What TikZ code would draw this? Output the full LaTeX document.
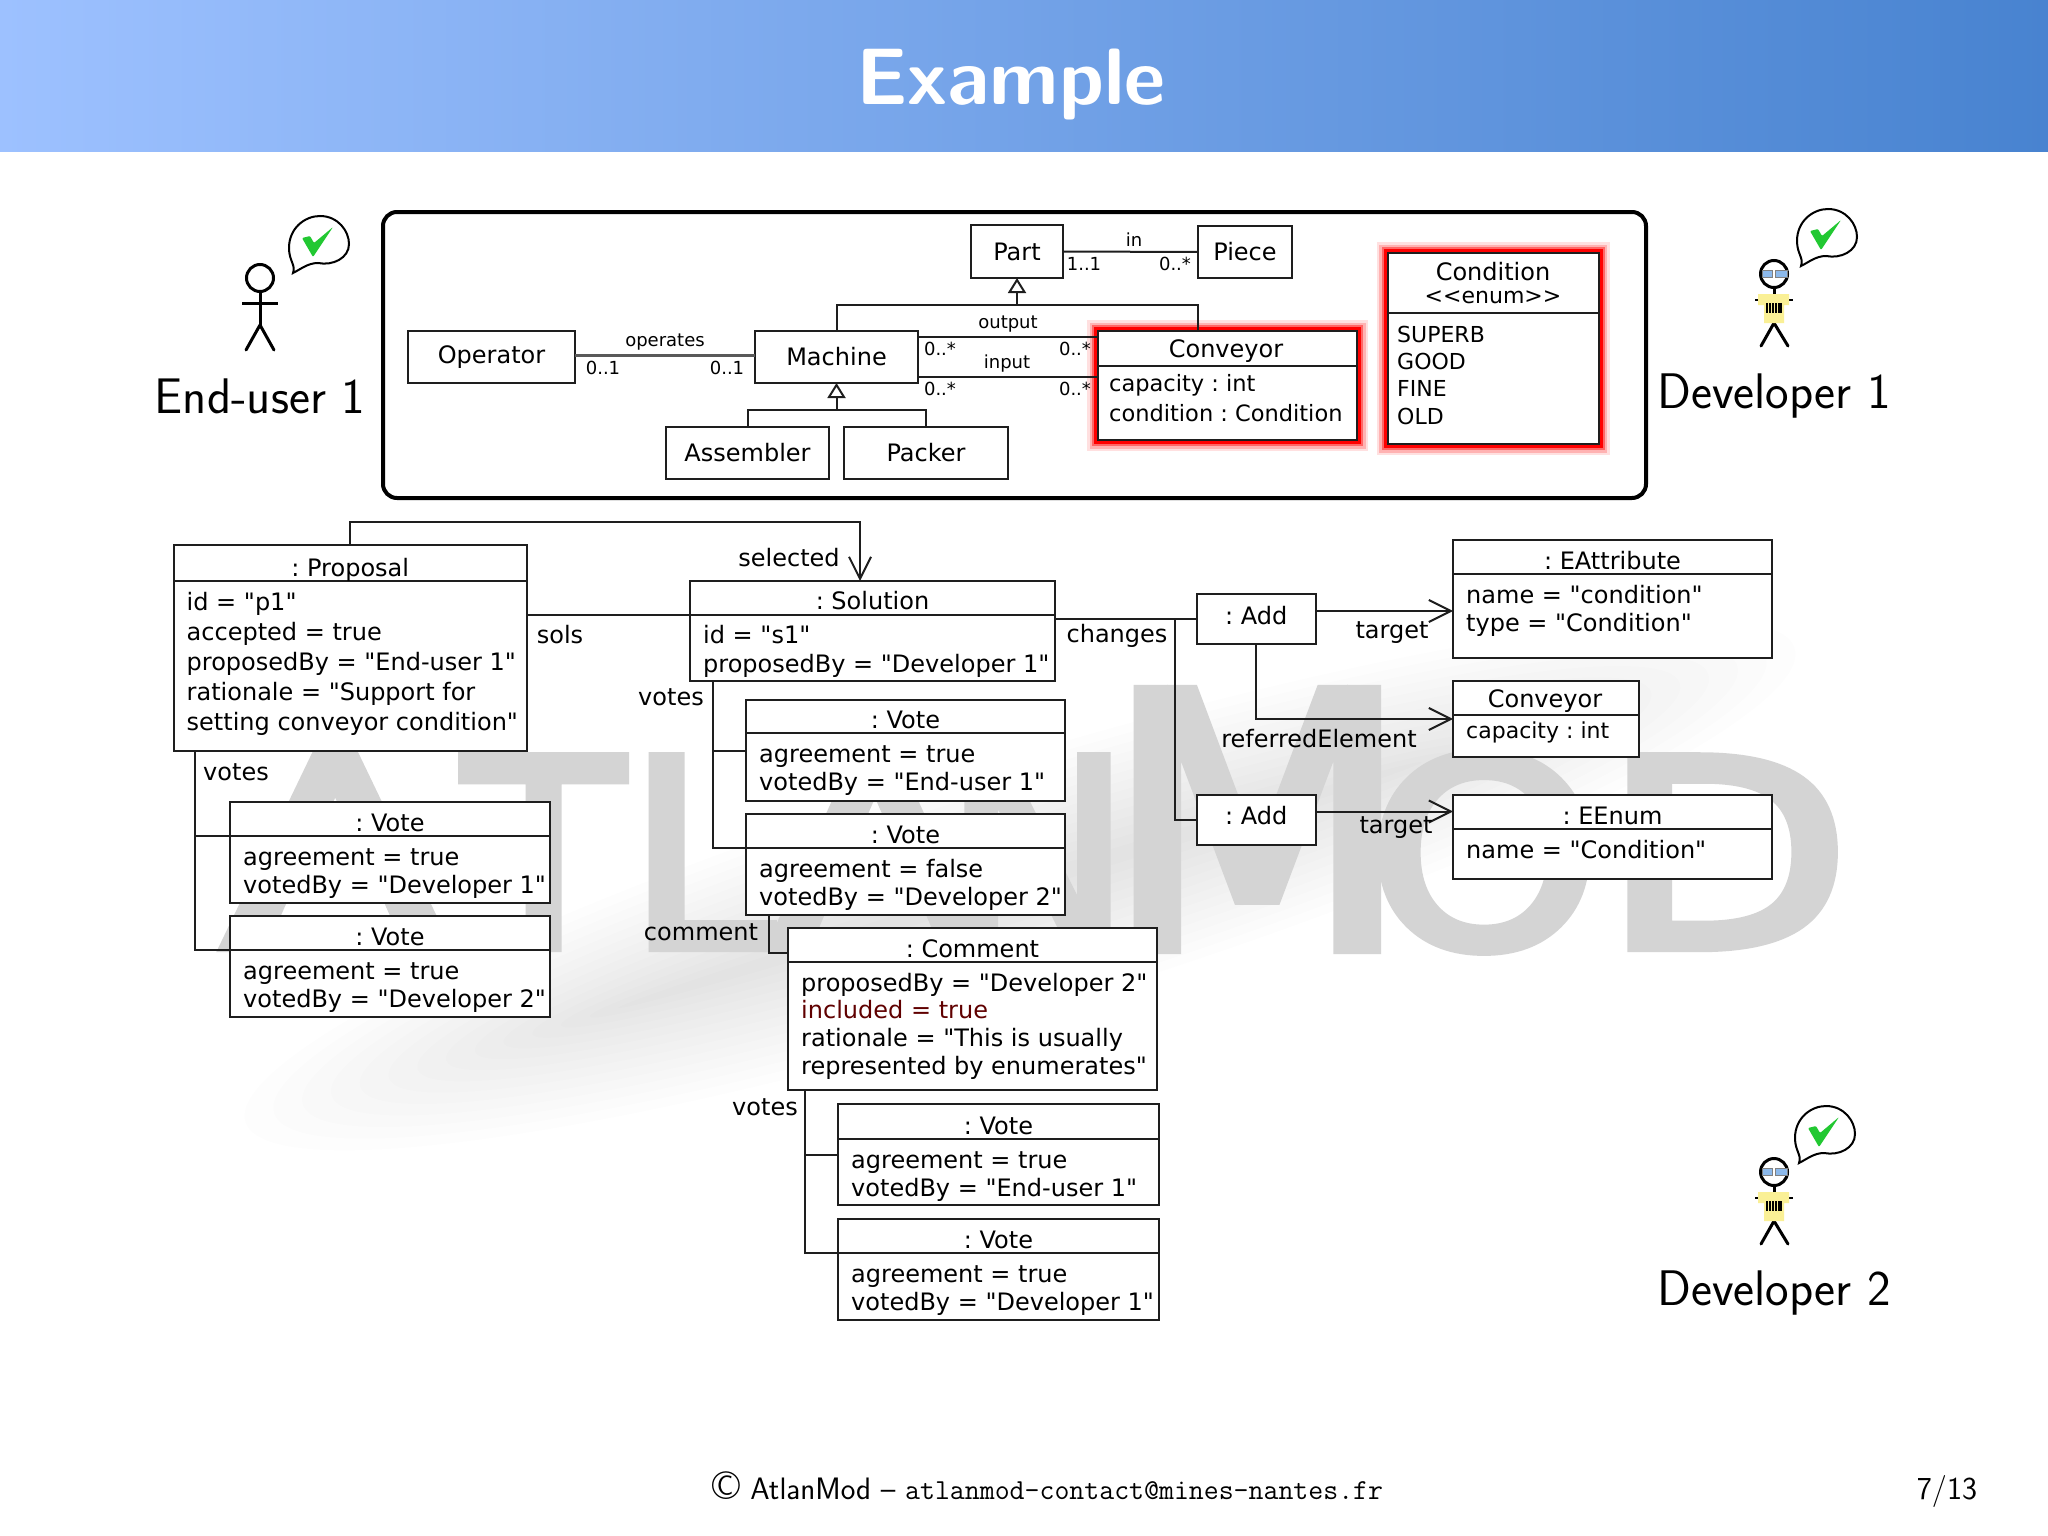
\documentclass[tikz,border=0pt]{standalone}
\usepackage{fontspec}
\newfontfamily\dejavu{DejaVu Sans}
\newfontfamily\wmfont[FakeBold=4]{DejaVu Sans}
\usetikzlibrary{arrows.meta}
\definecolor{headleft}{RGB}{157,193,255}
\definecolor{headright}{RGB}{72,131,208}
\definecolor{umlline}{RGB}{30,30,30}
\definecolor{tickgreen}{RGB}{34,200,50}
\definecolor{shirt}{RGB}{250,240,150}
\definecolor{lens}{RGB}{140,185,235}
\definecolor{incl}{RGB}{96,0,0}

% object box: name, x0, y0, x1, y1, y of the divider, title, attributes
\newcommand{\objbox}[8]{%
  \node[umlbox,minimum width={#4-#2},minimum height={#5-#3}] (#1) at ({(#2+#4)/2},{(#3+#5)/2}) {};
  \coordinate (#1d) at (#2,#6);
  \draw[uml] (#1d) -- (#1d -| #1.east);
  \node[objtitle] (#1t) at ({(#2+#4)/2},{#6-5}) {#7};
  \node[attrs] (#1b) at ({#2+13},{#6+9}) {\strut #8};
}

\begin{document}
\frenchspacing
\begin{tikzpicture}[x=1pt,y=-1pt,>={Straight Barb[length=22pt,width=22pt]},
 uml/.style={draw=umlline,line width=2pt},
 umlbox/.style={uml,fill=white,rectangle,inner sep=0pt,outer sep=0pt},
 cname/.style={font={\dejavu\fontsize{24}{28.5}\selectfont},text=black,inner sep=0pt},
 objtitle/.style={cname,anchor=base},
 attrs/.style={cname,anchor=north west,align=left},
 small/.style={font={\dejavu\fontsize{18}{20}\selectfont},text=black,inner sep=0pt},
 enumlit/.style={font={\dejavu\fontsize{22}{27.3}\selectfont},text=black,inner sep=0pt,anchor=north west,align=left},
 actorname/.style={font={\sffamily\fontsize{50}{54}\selectfont},text=black,inner sep=0pt},
 wmark/.style={font={\wmfont\fontsize{#1}{#1}\selectfont},text=black!17,inner sep=0pt,anchor=base west},
 gentip/.style={-{Triangle[length=15pt,width=18pt,fill=white]}},
 redglow/.style={preaction={draw=red!12,line width=22pt},preaction={draw=red!30,line width=17pt},preaction={draw=red!60,line width=12pt},preaction={draw=red,line width=8pt}},
 bubble/.pic={
  \draw[black,line width=2pt,fill=white] (0,0) .. controls (3,-8) and (-4,-12) .. (-4,-25) .. controls (-4,-45) and (12,-57) .. (27,-57) .. controls (45,-57) and (56,-42) .. (56,-29) .. controls (56,-15) and (40,-7) .. (25,-10) .. controls (15,-10) and (8,-4) .. (0,0) -- cycle;
  \fill[tickgreen,rounded corners=1pt] (9,-35) -- (17,-37) -- (21,-30) -- (40,-46) -- (20,-16) -- cycle;
 },
 developer/.pic={
  \draw[black,line width=3pt] (0,14) -- (0,20);
  \draw[black,line width=3pt,line cap=round] (0,49) -- (-13,72) (0,49) -- (14,72);
  \draw[black,line width=2pt] (-19,26) -- (19,26);
  \fill[shirt] (-16,20) -- (15,20) -- (15,31) -- (10,31) -- (10,49) -- (-10,49) -- (-10,31) -- (-16,31) -- cycle;
  \foreach \s in {-7,-4,-1,2,5,7}
   \draw[black,line width=1.2pt] (\s,29) -- (\s,39);
  \draw[black,line width=3pt] (0,0) circle (13.5);
  \draw[gray,fill=lens,line width=.8pt] (-12,-4) rectangle (-1.5,3) (1.5,-4) rectangle (13,3);
 }]
\useasboundingbox (0,0) rectangle (2048,1536);
\fill[white] (0,0) rectangle (2048,1536);

% header and footer
\node[rectangle,inner sep=0pt,minimum width=2048,minimum height=152,left color=headleft,right color=headright] (header) at (1024,76) {};
\node[anchor=base,inner sep=0pt,text=white,font={\sffamily\bfseries\fontsize{80}{84}\selectfont}] (title) at (1011,105) {Example};
\node[inner sep=0pt,anchor=base,font={\sffamily\fontsize{31}{34}\selectfont}] (footer) at (1048,1499) {{\fontsize{40}{34}\selectfont\textcopyright}{} AtlanMod – {\ttfamily\fontsize{29}{34}\selectfont atlanmod-contact@mines-nantes.fr}};
\node[inner sep=0pt,anchor=base,font={\sffamily\fontsize{32}{34}\selectfont}] (pagenum) at (1947,1499) {7/13};

% watermark
\foreach \r in {0,...,13}
 \fill[black,opacity=.0075] (1020,885) [rotate around={17:(1020,885)}] ellipse [x radius=810-30*\r,y radius=125-9*\r];
\foreach \i/\ch/\cx/\cs in {1/A/223/1.26,2/T/464/1,3/L/628/1,4/A/770/1.18,5/N/945/.95,6/O/1367/1.14,7/D/1602/1.24}
 \node[wmark=260] (wm\i) at (\cx,947) {\scalebox{\cs}[1]{\ch}};
\node[wmark=350] (wmm) at (1106,947) {M};

% metamodel
\node[rectangle,draw=black,line width=4pt,rounded corners=14pt,fill=white,minimum width=1263,minimum height=286,inner sep=0pt] (meta) at (1014.5,355) {};
\node[umlbox,cname,minimum width=92,minimum height=53] (part) at (1017,251.5) {Part};
\node[umlbox,cname,minimum width=94,minimum height=52] (piece) at (1245,252) {Piece};
\node[umlbox,cname,minimum width=167,minimum height=52] (operator) at (491.5,357) {Operator};
\node[umlbox,cname,minimum width=163,minimum height=52] (machine) at (836.5,357) {Machine};
\node[umlbox,cname,minimum width=163,minimum height=52] (assembler) at (747.5,453) {Assembler};
\node[umlbox,cname,minimum width=164,minimum height=52] (packer) at (926,453) {Packer};
\node[umlbox,redglow,minimum width=259,minimum height=109] (conveyor) at (1227.5,385.5) {};
\draw[uml] (conveyor.west |- 0,366) coordinate (conveyord) -- (conveyor.east |- 0,366);
\node[objtitle] (conveyort) at (1226,357) {Conveyor};
\node[attrs,font={\dejavu\fontsize{22.5}{29.5}\selectfont}] (conveyorb) at (1109,371) {\strut capacity : int\\condition : Condition};
\node[umlbox,redglow,minimum width=211,minimum height=191] (condition) at (1493,348.5) {};
\draw[uml] (condition.west |- 0,313) coordinate (conditiond) -- (condition.east |- 0,313);
\node[objtitle] (conditiont) at (1493,280) {Condition};
\node[objtitle,font={\dejavu\fontsize{22}{24}\selectfont}] (conditions) at (1493,303) {<{}<enum>{}>};
\node[enumlit] (conditionb) at (1397,323) {\strut SUPERB\\GOOD\\FINE\\OLD};

\coordinate (genm) at (836.5,410);
\coordinate (genp) at (1017,305);
\draw[uml,gentip] (genm) -- (machine.south);
\draw[uml] (assembler.north) |- (genm) -| (packer.north);
\draw[uml,gentip] (genp) -- (part.south);
\draw[uml] (machine.north) |- (genp) -| ([xshift=-29.5pt]conveyor.north);
\draw[uml] (part.east) -- (piece.west);
\draw[uml,line width=3pt,draw=black!65] ([yshift=2pt]operator.east) -- ([yshift=2pt]machine.west);
\draw[uml] ([yshift=20pt]machine.east) -- ([yshift=20pt]machine.east -| conveyor.west);
\draw[uml] ([yshift=-20pt]machine.east) -- ([yshift=-20pt]machine.east -| conveyor.west);
\node[small] (in) at (1134,240) {in};
\node[small] (inl) at (1084,264) {1..1};
\node[small] (inr) at (1175,264) {0..*};
\node[small] (op) at (665,342) {operates};
\node[small] (opl) at (603,368) {0..1};
\node[small] (opr) at (727,368) {0..1};
\node[small] (out) at (1008,324) {output};
\node[small] (outl) at (940,349) {0..*};
\node[small] (outr) at (1075,349) {0..*};
\node[small] (inp) at (1007,364) {input};
\node[small] (inpl) at (940,389) {0..*};
\node[small] (inpr) at (1075,389) {0..*};

% proposal model
\objbox{proposal}{173.5}{545}{527}{751}{581}{: Proposal}{id = "p1"\\[1.5pt]accepted = true\\[1.5pt]proposedBy = "End-user 1"\\[1.5pt]rationale = "Support for\\[1.5pt]setting conveyor condition"}
\objbox{solution}{690}{581}{1055}{681}{614.5}{: Solution\hspace{52pt}}{id = "s1"\\proposedBy = "Developer 1"}
\objbox{votepa}{230}{802}{550}{903}{836}{: Vote}{agreement = true\\votedBy = "Developer 1"}
\objbox{votepb}{230}{916}{550}{1017}{950}{: Vote}{agreement = true\\votedBy = "Developer 2"}
\objbox{votesa}{746}{700}{1065}{801}{733}{: Vote}{agreement = true\\votedBy = "End-user 1"}
\objbox{votesb}{746}{814}{1065}{915}{848}{: Vote}{agreement = false\\votedBy = "Developer 2"}
\objbox{comment}{788}{928}{1157}{1090}{962}{: Comment}{proposedBy = "Developer 2"\\[-.8pt]\textcolor{incl}{included = true}\\[-.8pt]rationale = "This is usually\\[-.8pt]represented by enumerates"}
\objbox{voteca}{838}{1104}{1159}{1205}{1139}{: Vote\hspace{50pt}}{agreement = true\\votedBy = "End-user 1"}
\objbox{votecb}{838}{1219}{1159}{1320}{1253}{: Vote}{agreement = true\\votedBy = "Developer 1"}
\node[umlbox,cname,text depth=8pt,minimum width=118.5,minimum height=50] (adda) at (1256.25,619) {: Add};
\node[umlbox,cname,text depth=8pt,minimum width=118.5,minimum height=50] (addb) at (1256.25,819.5) {: Add};
\objbox{eattr}{1453}{540}{1772}{658}{574}{: EAttribute}{name = "condition"\\type = "Condition"}
\objbox{eenum}{1453}{795}{1772}{879}{829}{: EEnum}{name = "Condition"}
\node[umlbox,minimum width=185.5,minimum height=76] (convobj) at (1545.75,719) {};
\draw[uml] (convobj.west |- 0,715) coordinate (convobjd) -- (convobj.east |- 0,715);
\node[objtitle] (convobjt) at (1545,707) {Conveyor};
\node[attrs,font={\dejavu\fontsize{22}{26}\selectfont}] (convobjb) at (1466,720) {\strut capacity : int};

\draw[uml,->] (proposal.north) |- ([xshift=-12.5pt,yshift=59pt]solution.north) -- ([xshift=-12.5pt]solution.north);
\draw[uml] (proposal.east |- solutiond) -- (solutiond);
\draw[uml] ([xshift=-155pt]proposal.south) |- (votepad);
\draw[uml] ([xshift=-155pt]proposal.south) |- (votepbd);
\draw[uml] ([xshift=-159.5pt]solution.south) |- (votesa.west);
\draw[uml] ([xshift=-159.5pt]solution.south) |- (votesbd);
\draw[uml] ([xshift=-136.5pt]votesb.south) |- ([yshift=56pt]comment.west);
\draw[uml] ([xshift=-167.5pt]comment.south) |- (voteca.west);
\draw[uml] ([xshift=-167.5pt]comment.south) |- (votecbd);
\draw[uml] (solution.east |- adda.west) -- (adda.west);
\draw[uml] ([xshift=120pt]solution.east |- adda.west) |- (addb.west);
\draw[uml,->] ([yshift=8pt]adda.east) -- ([yshift=8pt]adda.east -| eattr.west);
\draw[uml,->] (adda.south) |- (convobj.west);
\draw[uml,->] ([yshift=8pt]addb.east) -- ([yshift=8pt]addb.east -| eenum.west);

\node[cname] (selected) at (789,558) {selected};
\node[cname] (sols) at (560,635) {sols};
\node[cname] (votesp) at (236,772) {votes};
\node[cname] (votess) at (671,697) {votes};
\node[cname] (changes) at (1117,636) {changes};
\node[cname] (targeta) at (1392,633) {target};
\node[cname] (referred) at (1319,739) {referredElement};
\node[cname] (targetb) at (1396,828) {target};
\node[cname] (commentl) at (701,932) {comment};
\node[cname] (votesc) at (765,1107) {votes};

% actors
\draw[black,line width=3pt] (260,278) circle (13.5);
\coordinate (enduserhip) at (260,325);
\draw[black,line width=3pt] (260,291.5) -- (enduserhip) (242,303) -- (278,303);
\draw[black,line width=3pt,line cap=round] (enduserhip) -- (246,350) (enduserhip) -- (274,350);
\pic (endbubble) at (293,273) {bubble};
\node[actorname] (enduser) at (260,396) {End-user 1};
\pic (devone) at (1774,274) {developer};
\pic (devonebubble) at (1801,266) {bubble};
\node[actorname] (developerone) at (1774,396) {Developer 1};
\pic (devtwo) at (1774,1172) {developer};
\pic (devtwobubble) at (1799,1163) {bubble};
\node[actorname] (developertwo) at (1774,1293) {Developer 2};
\end{tikzpicture}
\end{document}
